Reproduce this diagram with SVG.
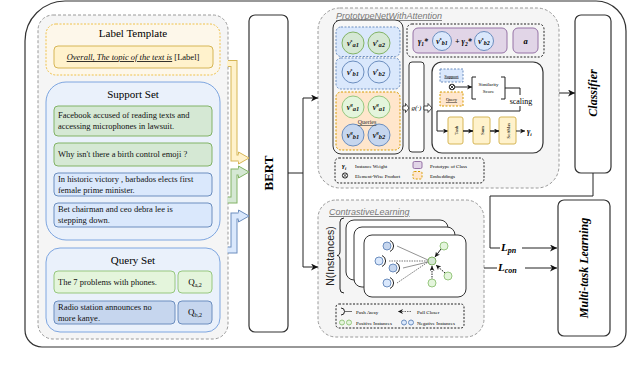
<svg xmlns="http://www.w3.org/2000/svg" width="640" height="370" viewBox="0 0 640 370">
<defs>
<style>
.serif{font-family:"Liberation Serif","Times New Roman",serif}
.sans{font-family:"Liberation Sans",Arial,sans-serif}
.bi{font-weight:bold;font-style:italic}
.blk{fill:none;stroke:#222;stroke-width:1}
.grp{fill:#f5f5f5;stroke:#9a9a9a;stroke-width:1;stroke-dasharray:3,2}
.gbox{fill:#d5e8d4;stroke:#82b366;stroke-width:1}
.lgbox{fill:#e4f5dc;stroke:#97c77f;stroke-width:1}
.bbox{fill:#dae8fc;stroke:#6c8ebf;stroke-width:1}
.dbbox{fill:#c6d6ee;stroke:#6c8ebf;stroke-width:1}
.ybox{fill:#fff2cc;stroke:#d6b656;stroke-width:1}
.obox{fill:#ffe6cc;stroke:#d79b00;stroke-width:1;stroke-dasharray:2,1.5}
.bdash{fill:#dae8fc;stroke:#6c8ebf;stroke-width:1;stroke-dasharray:2,1.5}
.pbox{fill:#e1d5e7;stroke:#9673a6;stroke-width:1}
.dot{fill:none;stroke:#222;stroke-width:1;stroke-dasharray:2,1.5}
.t85{font-size:8.5px;fill:#111}
.line{fill:none;stroke:#222;stroke-width:1}
</style>
<marker id="ah" viewBox="0 0 10 10" refX="10" refY="5" markerWidth="7" markerHeight="7" orient="auto" markerUnits="userSpaceOnUse"><path d="M0,0 L10,5 L0,10 L3,5 z" fill="#111"/></marker>
<marker id="ahs" viewBox="0 0 10 10" refX="10" refY="5" markerWidth="5" markerHeight="5" orient="auto" markerUnits="userSpaceOnUse"><path d="M0,0 L10,5 L0,10 L3,5 z" fill="#111"/></marker>
</defs>
<rect width="640" height="370" fill="#fff"/>
<!-- outer frame -->
<path d="M65 1 H596 A30 30 0 0 1 626 31 V332 A15 15 0 0 1 611 347 H42 A17 17 0 0 1 25 330 V41 A40 40 0 0 1 65 1 Z" fill="#fff" stroke="#333" stroke-width="1.2"/>

<!-- left input panel -->
<g id="input-panel">
<rect x="38" y="15" width="190" height="324" rx="15" class="grp"/>
</g>
<g id="label-template">
<rect x="46" y="24" width="174" height="51" rx="10" fill="#fdf7ea" stroke="#f0c24a" stroke-width="1" stroke-dasharray="2,1.5"/>
<text x="133" y="37" text-anchor="middle" class="serif" font-size="11">Label Template</text>
<rect x="54" y="46" width="159" height="22" rx="4" class="ybox"/>
<text x="133" y="60" text-anchor="middle" class="serif t85"><tspan font-style="italic" text-decoration="underline">Overall, The topic of the text is</tspan> [Label]</text>
</g>
<g id="support-set">
<rect x="46" y="82" width="174" height="158" rx="20" fill="#eaf1fb" stroke="#7ea6e0" stroke-width="1"/>
<text x="133" y="98" text-anchor="middle" class="serif" font-size="11">Support Set</text>
<rect x="54" y="106" width="158" height="30" rx="4" class="gbox"/>
<text x="58" y="118" class="serif t85">Facebook accused of reading texts and</text>
<text x="58" y="129" class="serif t85">accessing microphones in lawsuit.</text>
<rect x="54" y="143" width="158" height="23" rx="4" class="gbox"/>
<text x="58" y="157" class="serif t85">Why isn't there a birth control emoji ?</text>
<rect x="54" y="173" width="158" height="23" rx="4" class="bbox"/>
<text x="58" y="182" class="serif t85">In historic victory , barbados elects first</text>
<text x="58" y="193" class="serif t85">female prime minister.</text>
<rect x="54" y="203" width="158" height="24" rx="4" class="bbox"/>
<text x="58" y="212" class="serif t85">Bet chairman and ceo debra lee is</text>
<text x="58" y="223" class="serif t85">stepping down.</text>
</g>
<g id="query-set">
<rect x="46" y="248" width="174" height="84" rx="14" fill="#eaf1fb" stroke="#7ea6e0" stroke-width="1"/>
<text x="133" y="264" text-anchor="middle" class="serif" font-size="11">Query Set</text>
<rect x="54" y="271" width="121" height="22" rx="4" class="lgbox"/>
<text x="58" y="285" class="serif t85">The 7 problems with phones.</text>
<rect x="178" y="271" width="34" height="22" rx="4" class="lgbox"/>
<text x="195" y="285" text-anchor="middle" class="serif" font-size="9">Q<tspan font-size="6" dy="1.5">a,2</tspan></text>
<rect x="54" y="301" width="121" height="23" rx="4" class="dbbox"/>
<text x="58" y="310" class="serif t85">Radio station announces no</text>
<text x="58" y="321" class="serif t85">more kanye.</text>
<rect x="178" y="301" width="34" height="23" rx="4" class="dbbox"/>
<text x="195" y="315" text-anchor="middle" class="serif" font-size="9">Q<tspan font-size="6" dy="1.5">b,2</tspan></text>
</g>

<g id="bert">
<rect x="249" y="15" width="39" height="317" rx="6" fill="#fff" stroke="#333" stroke-width="1.2"/>
<text transform="translate(273,173) rotate(-90)" text-anchor="middle" class="serif" font-size="13" font-weight="bold">BERT</text>
</g>

<!-- PrototypeNetWithAttention -->
<g id="prototype-net">
<rect x="318" y="8" width="241" height="180" rx="22" class="grp"/>
<text x="336" y="19" class="sans" font-size="9" font-style="italic" fill="#777" text-decoration="underline">PrototypeNetWithAttention</text>
</g>
<g id="embeddings">
<rect x="333" y="20" width="70" height="134" rx="8" fill="#f7f7f7" stroke="#333" stroke-width="1"/>
<rect x="336" y="27" width="64" height="29.5" rx="5" class="bdash"/>
<rect x="336" y="58" width="64" height="31" rx="5" class="bdash"/>
<rect x="336" y="92" width="64" height="58" rx="5" class="obox"/>
<circle cx="353" cy="43" r="11" class="gbox"/>
<circle cx="379" cy="43" r="11" class="gbox"/>
<circle cx="353" cy="72" r="11" class="bbox"/>
<circle cx="379" cy="72" r="11" class="bbox"/>
<circle cx="353" cy="107" r="11" class="lgbox"/>
<circle cx="379" cy="107" r="11" class="lgbox"/>
<circle cx="353" cy="135" r="11" class="dbbox"/>
<circle cx="379" cy="135" r="11" class="dbbox"/>
<g class="serif bi" font-size="8" text-anchor="middle" fill="#111">
<text x="353" y="46">v<tspan font-size="5" dy="-4">s</tspan><tspan font-size="6.5" dy="5">a1</tspan></text>
<text x="379" y="46">v<tspan font-size="5" dy="-4">s</tspan><tspan font-size="6.5" dy="5">a2</tspan></text>
<text x="353" y="75">v<tspan font-size="5" dy="-4">s</tspan><tspan font-size="6.5" dy="5">b1</tspan></text>
<text x="379" y="75">v<tspan font-size="5" dy="-4">s</tspan><tspan font-size="6.5" dy="5">b2</tspan></text>
<text x="353" y="110">v<tspan font-size="5" dy="-4">q</tspan><tspan font-size="6.5" dy="5">a1</tspan></text>
<text x="379" y="110">v<tspan font-size="5" dy="-4">q</tspan><tspan font-size="6.5" dy="5">a1</tspan></text>
<text x="353" y="138">v<tspan font-size="5" dy="-4">q</tspan><tspan font-size="6.5" dy="5">b1</tspan></text>
<text x="379" y="138">v<tspan font-size="5" dy="-4">q</tspan><tspan font-size="6.5" dy="5">b2</tspan></text>
</g>
<text x="367" y="124" text-anchor="middle" class="serif" font-size="6" text-decoration="underline" fill="#333">Queries</text>
</g>
<g id="g-function">
<rect x="409" y="62" width="15" height="90" rx="3" fill="#fff" stroke="#333" stroke-width="1"/>
<text x="416.5" y="110" text-anchor="middle" class="serif" font-size="7" font-style="italic">g(·)</text>
<path d="M403 106 H405.5 V103.5 L409 108 L405.5 112.5 V110 H403 Z" fill="#fff" stroke="#222" stroke-width="0.8"/>
<path d="M424 106 H428 V103.5 L432 108 L428 112.5 V110 H424 Z" fill="#fff" stroke="#222" stroke-width="0.8"/>
</g>
<g id="prototypes">
<rect x="407" y="24" width="137" height="33" rx="5" class="dot"/>
<rect x="413" y="28" width="94" height="25" rx="5" class="pbox"/>
<text x="418" y="44" class="serif bi" font-size="8">γ<tspan font-size="5.5" dy="1.5">1</tspan><tspan dy="-1.5">*</tspan></text>
<circle cx="442" cy="41" r="9.5" class="bbox"/>
<text x="442" y="44" text-anchor="middle" class="serif bi" font-size="7.5">v<tspan font-size="5" dy="-4">s</tspan><tspan font-size="6" dy="5">b1</tspan></text>
<text x="455" y="44" class="serif bi" font-size="8">+ γ<tspan font-size="5.5" dy="1.5">2</tspan><tspan dy="-1.5">*</tspan></text>
<circle cx="484" cy="41" r="9.5" class="bbox"/>
<text x="484" y="44" text-anchor="middle" class="serif bi" font-size="7.5">v<tspan font-size="5" dy="-4">s</tspan><tspan font-size="6" dy="5">b2</tspan></text>
<rect x="513" y="28" width="25" height="25" rx="5" class="pbox"/>
<text x="525.5" y="44" text-anchor="middle" class="serif bi" font-size="8.5">a</text>
</g>
<g id="attention">
<rect x="432" y="62" width="111" height="91" rx="10" fill="#fff" stroke="#333" stroke-width="1.2"/>
<rect x="440" y="69" width="23" height="13" class="bdash"/>
<text x="451.5" y="77.5" text-anchor="middle" class="serif" font-size="4.5" text-decoration="underline">Support</text>
<rect x="440" y="92" width="23" height="14" class="obox"/>
<text x="451.5" y="101" text-anchor="middle" class="serif" font-size="4.5" text-decoration="underline">Query</text>
<circle cx="452" cy="87" r="2.8" fill="#fff" stroke="#111" stroke-width="0.9"/>
<path d="M450 85 L454 89 M454 85 L450 89" stroke="#111" stroke-width="0.8"/>
<path d="M455 87 H472" class="line" marker-end="url(#ahs)"/>
<path d="M476 77 H472 V99 H476 M501 77 H505 V99 H501" class="line"/>
<text x="488.5" y="86" text-anchor="middle" class="serif" font-size="5">Similarity</text>
<text x="488.5" y="93" text-anchor="middle" class="serif" font-size="5">Score</text>
<path d="M505 88 H520 V95 M520 106 V111 H437 V131 H448" class="line" marker-end="url(#ahs)"/>
<text x="521" y="104" text-anchor="middle" class="serif" font-size="8">scaling</text>
<rect x="448" y="117" width="15" height="27" rx="2" class="ybox"/>
<rect x="473" y="117" width="17" height="27" rx="2" class="ybox"/>
<rect x="499" y="117" width="17" height="27" rx="2" class="ybox"/>
<text transform="translate(457.5,130.5) rotate(-90)" text-anchor="middle" class="serif" font-size="4.5">Tanh</text>
<text transform="translate(483.5,130.5) rotate(-90)" text-anchor="middle" class="serif" font-size="4.5">Sum</text>
<text transform="translate(509.5,130.5) rotate(-90)" text-anchor="middle" class="serif" font-size="4.5">SoftMax</text>
<path d="M463 131 H473 M490 131 H499 M516 131 H525" class="line" marker-end="url(#ahs)"/>
<path d="M463 131 H473" class="line" marker-end="url(#ahs)"/>
<path d="M490 131 H499" class="line" marker-end="url(#ahs)"/>
<text x="527" y="134" class="serif bi" font-size="8">γ<tspan font-size="5" dy="1.5">i</tspan></text>
</g>
<g id="proto-legend">
<rect x="335" y="158" width="149" height="25" rx="4" fill="#fff" class="dot"/>
<text x="342" y="168" class="serif bi" font-size="7">γ<tspan font-size="4.5" dy="1.5">i</tspan></text>
<text x="355" y="167.5" class="serif" font-size="5">Instance Weight</text>
<circle cx="345" cy="175.5" r="2.6" fill="#fff" stroke="#111" stroke-width="0.9"/>
<path d="M343.2 173.7 L346.8 177.3 M346.8 173.7 L343.2 177.3" stroke="#111" stroke-width="0.7"/>
<text x="355" y="177.5" class="serif" font-size="5">Element-Wise Product</text>
<rect x="413" y="161.5" width="9" height="7" rx="1.5" class="pbox"/>
<text x="430" y="167.5" class="serif" font-size="5">Prototype of Class</text>
<rect x="413" y="171.5" width="9" height="7.5" rx="1.5" class="obox"/>
<text x="430" y="177.5" class="serif" font-size="5">Embeddings</text>
</g>

<!-- Contrastive learning -->
<g id="contrastive">
<rect x="318" y="200" width="166" height="137" rx="18" class="grp"/>
<text x="329" y="215" class="sans" font-size="9" font-style="italic" fill="#777" text-decoration="underline">ContrastiveLearning</text>
<text transform="translate(334,256) rotate(-90)" text-anchor="middle" class="sans" font-size="10.5" fill="#222">N(Instances)</text>
<path d="M344 218 Q340 218 340 222 V251 Q340 255.5 337 255.5 Q340 255.5 340 260 V289 Q340 293 344 293" class="line"/>
<rect x="346" y="220" width="102" height="60" rx="8" fill="#fff" stroke="#333" stroke-width="1"/>
<rect x="354" y="227" width="101" height="60" rx="8" fill="#fff" stroke="#333" stroke-width="1"/>
<rect x="364" y="235" width="102" height="62" rx="8" fill="#fff" stroke="#333" stroke-width="1"/>
<path d="M397 246 L428 260 M403 268 L428 262" stroke="#777" stroke-width="0.8" fill="none"/>
<path d="M389 261 L428 261 M397 283 L428 262" stroke="#555" stroke-width="0.8" stroke-dasharray="1.5,1" fill="none"/>
<circle cx="387" cy="246" r="4" class="dbbox"/>
<circle cx="379" cy="261" r="4" class="bbox"/>
<circle cx="393" cy="268" r="4" class="dbbox"/>
<circle cx="387" cy="283" r="4" class="bbox"/>
<path d="M390 240.5 A6 6 0 0 1 390 251.5 M382 255.5 A6 6 0 0 1 382 266.5 M396 262.5 A6 6 0 0 1 396 273.5 M390 277.5 A6 6 0 0 1 390 288.5" stroke="#222" stroke-width="1" fill="none"/>
<path d="M441 249 L435 257" class="line" marker-end="url(#ahs)"/>
<path d="M432 280 V266" class="line" stroke-dasharray="1.5,1" marker-end="url(#ahs)"/>
<path d="M445 273 L436 265" class="line" stroke-dasharray="1.5,1" marker-end="url(#ahs)"/>
<circle cx="432" cy="261" r="4" class="gbox"/>
<circle cx="444" cy="246" r="4" class="lgbox"/>
<circle cx="448" cy="276" r="4" class="lgbox"/>
<circle cx="432" cy="283" r="4" class="lgbox"/>
</g>
<g id="contrastive-legend">
<rect x="336" y="304" width="128" height="24" rx="3" fill="#fff" class="dot"/>
<path d="M341 308 A3.5 3.5 0 0 1 341 315" class="line"/>
<path d="M344.5 311.5 H352" stroke="#333" stroke-width="0.7"/>
<text x="356" y="313.5" class="serif" font-size="5">Push Away</text>
<path d="M411 311.5 H398" stroke="#333" stroke-width="0.7" stroke-dasharray="1.5,1" marker-end="url(#ahs)"/>
<text x="417" y="313.5" class="serif" font-size="5">Pull Closer</text>
<circle cx="342" cy="322.5" r="2.5" class="lgbox"/>
<circle cx="349" cy="322.5" r="2.5" class="lgbox"/>
<text x="356" y="324.5" class="serif" font-size="5">Positive Instances</text>
<circle cx="404" cy="322.5" r="2.5" class="bbox"/>
<circle cx="411" cy="322.5" r="2.5" class="bbox"/>
<text x="417" y="324.5" class="serif" font-size="5">Negative Instances</text>
</g>

<g id="classifier">
<rect x="575" y="15" width="36" height="158" rx="6" fill="#fff" stroke="#333" stroke-width="1.2"/>
<text transform="translate(597,93) rotate(-90)" text-anchor="middle" class="serif bi" font-size="12">Classifier</text>
</g>
<g id="multitask">
<rect x="558" y="200" width="52" height="136" rx="6" fill="#fff" stroke="#333" stroke-width="1.2"/>
<text transform="translate(588,268) rotate(-90)" text-anchor="middle" class="serif bi" font-size="12">Multi-task Learning</text>
</g>

<!-- connectors -->
<g id="connectors">
<!-- flex arrows from inputs -->
<path d="M228 63.5 H234 V158 H239" fill="none" stroke="#d6b656" stroke-width="7"/>
<path d="M227 63.5 H234 V158 H239.5" fill="none" stroke="#fff2cc" stroke-width="5"/>
<polygon points="238.5,152 249,158 238.5,164" fill="#fff2cc"/>
<polyline points="238.5,154.5 238.5,152 249,158 238.5,164 238.5,161.5" fill="none" stroke="#d6b656" stroke-width="1"/>
<path d="M228 200 H234 V172 H239" fill="none" stroke="#82b366" stroke-width="7"/>
<path d="M227 200 H234 V172 H239.5" fill="none" stroke="#d5e8d4" stroke-width="5"/>
<polygon points="238.5,166 249,172 238.5,178" fill="#d5e8d4"/>
<polyline points="238.5,168.5 238.5,166 249,172 238.5,178 238.5,175.5" fill="none" stroke="#82b366" stroke-width="1"/>
<path d="M228 250 H234 V216 H239" fill="none" stroke="#6c8ebf" stroke-width="7"/>
<path d="M227 250 H234 V216 H239.5" fill="none" stroke="#dae8fc" stroke-width="5"/>
<polygon points="238.5,210 249,216 238.5,222" fill="#dae8fc"/>
<polyline points="238.5,212.5 238.5,210 249,216 238.5,222 238.5,219.5" fill="none" stroke="#6c8ebf" stroke-width="1"/>
<!-- BERT outputs -->
<path d="M288 173 H303" class="line"/>
<path d="M303 173 V98 H318" class="line" marker-end="url(#ah)"/>
<path d="M303 173 V267 H318" class="line" marker-end="url(#ah)"/>
<!-- to classifier -->
<path d="M559 93 H575" class="line" marker-end="url(#ah)"/>
<!-- losses -->
<path d="M593 173 V196 H490 V248 H500" class="line"/>
<path d="M522 248 H557" class="line" marker-end="url(#ah)"/>
<path d="M484 268 H497" class="line"/>
<path d="M525 268 H557" class="line" marker-end="url(#ah)"/>
<text x="501" y="251" class="serif bi" font-size="11">L<tspan font-size="8" dy="2">pn</tspan></text>
<text x="498" y="271" class="serif bi" font-size="11">L<tspan font-size="8" dy="2">con</tspan></text>
</g>
</svg>
